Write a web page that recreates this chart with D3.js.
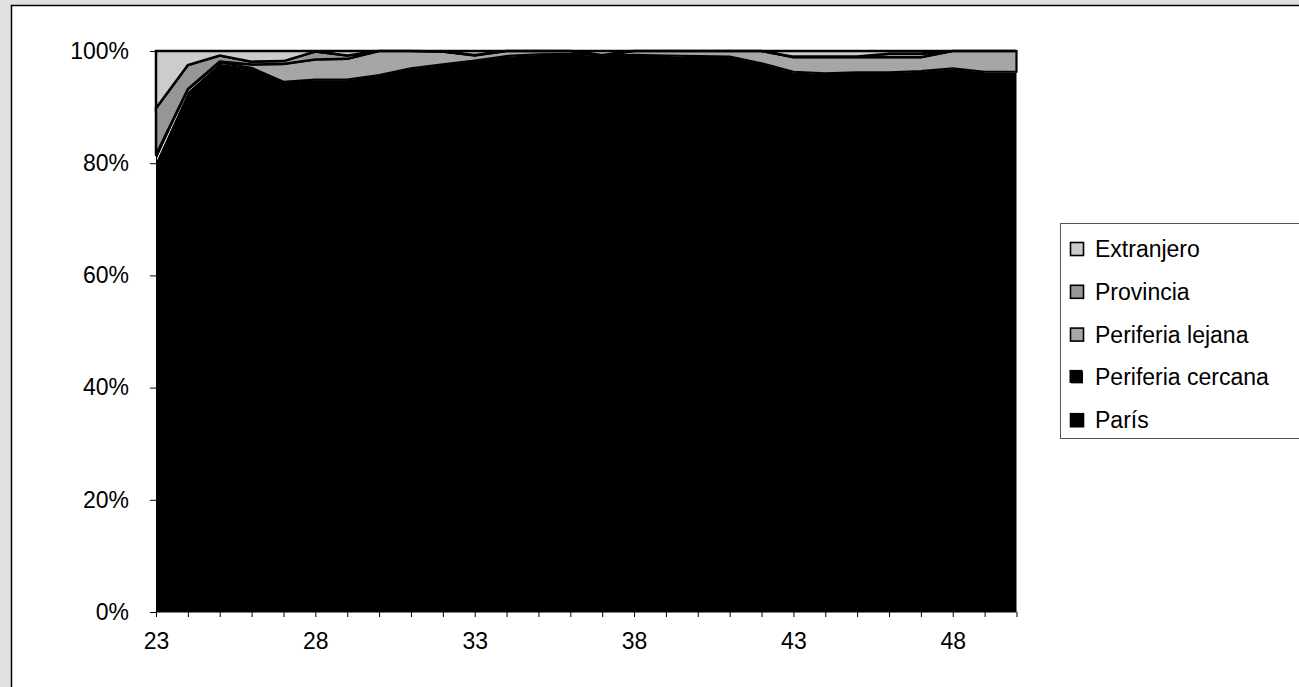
<!DOCTYPE html>
<html><head><meta charset="utf-8">
<script src="https://cdn.jsdelivr.net/npm/d3@7"></script>
<style>
html,body{margin:0;padding:0;background:#e0e0e0;}
svg{display:block;font-family:"Liberation Sans",Arial,sans-serif;}
</style></head>
<body>
<svg id="chart" width="1299" height="687"></svg>
<script>
const years = [23,24,25,26,27,28,29,30,31,32,33,34,35,36,37,38,39,40,41,42,43,44,45,46,47,48,49,50];
const paris = [80.3,92.8,97.8,97.0,94.5,94.9,94.9,95.7,96.9,97.6,98.3,99.1,99.4,99.5,99.2,99.3,99.2,99.1,99.0,97.8,96.3,96.0,96.2,96.2,96.4,96.9,96.3,96.3];
const cercana = [1.0,0.3,0.1,0,0,0,0,0,0,0,0,0,0,0,0,0,0,0,0,0,0,0,0,0,0,0,0,0];
const lejana = [0.2,0.1,0.2,0.6,3.2,3.6,3.7,4.3,3.1,2.3,0.9,0.9,0.6,0.5,0.1,0.7,0.8,0.9,1.0,2.2,2.6,2.9,2.7,2.7,2.5,3.1,3.7,3.7];
const provincia = [8.3,4.3,1.1,0.5,0.5,1.4,0.6,0,0,0,0.1,0,0,0,0,0,0,0,0,0,0.1,0.1,0.1,0.6,0.6,0,0,0];
const extranjero = [10.2,2.5,0.8,1.9,1.8,0.1,0.8,0,0,0.1,0.7,0,0,0,0.7,0,0,0,0,0,1.0,1.0,1.0,0.5,0.5,0,0,0];
const seriesNames = ["París","Periferia cercana","Periferia lejana","Provincia","Extranjero"];
const xTickLabels = [23,28,33,38,43,48];
const yTickValues = [0,0.2,0.4,0.6,0.8,1.0];

const fills = {"París":"#000000","Periferia cercana":"#000000","Periferia lejana":"#a6a6a6","Provincia":"#969696","Extranjero":"#cccccc"};
const strokes = {"París":"none","Periferia cercana":"#ffffff","Periferia lejana":"#000000","Provincia":"#000000","Extranjero":"#000000"};
const strokeW = {"París":0,"Periferia cercana":1,"Periferia lejana":2.2,"Provincia":2.5,"Extranjero":2.5};

const rows = years.map((y,i)=>({year:y,"París":paris[i],"Periferia cercana":cercana[i],"Periferia lejana":lejana[i],"Provincia":provincia[i],"Extranjero":extranjero[i]}));

const FONT = "Liberation Sans, Arial, sans-serif";
const FS = 23;

const svg = d3.select("#chart");
svg.append("rect").attr("x",11.5).attr("y",5.5).attr("width",1400).attr("height",800)
  .attr("fill","#ffffff").attr("stroke","#000").attr("stroke-width",1.5);

const x = d3.scaleLinear().domain([23,50]).range([156,1016.5]);
const y = d3.scaleLinear().domain([0,1]).range([612,51]);

const stack = d3.stack().keys(seriesNames).offset(d3.stackOffsetExpand);
const layers = stack(rows);

const area = d3.area().x(d=>x(d.data.year)).y0(d=>y(d[0])).y1(d=>y(d[1]));

svg.append("g").selectAll("path").data(layers).join("path")
  .attr("d",area)
  .attr("fill",d=>fills[d.key])
  .attr("stroke",d=>strokes[d.key])
  .attr("stroke-width",d=>strokeW[d.key])
  .attr("stroke-linejoin","miter");

const yAxis = d3.axisLeft(y).tickValues(yTickValues).tickSize(6).tickPadding(21).tickFormat(d3.format(".0%"));
const gy = svg.append("g").attr("transform","translate(156,0)").call(yAxis);
gy.attr("font-size",FS).attr("font-family",FONT);
gy.select(".domain").attr("stroke","#000").attr("stroke-width",1);
gy.selectAll(".tick line").attr("stroke","#000");
gy.selectAll(".tick text").attr("fill","#000");

const xAxis = d3.axisBottom(x).tickValues(years).tickSize(5).tickPadding(16)
  .tickFormat(d=>xTickLabels.includes(d)?String(d):"");
const gx = svg.append("g").attr("transform","translate(0,612)").call(xAxis);
gx.attr("font-size",FS).attr("font-family",FONT);
gx.select(".domain").attr("stroke","#000").attr("stroke-width",1).attr("d","M156,0H1016.5");
gx.selectAll(".tick line").attr("stroke","#000");
gx.selectAll(".tick text").attr("fill","#000");

const lg = svg.append("g");
lg.append("rect").attr("x",1060.5).attr("y",223.5).attr("width",300).attr("height",215)
  .attr("fill","#fff").attr("stroke","#555").attr("stroke-width",1);
const legendOrder = seriesNames.slice().reverse();
legendOrder.forEach((name,i)=>{
  const cy = 249 + i*42.8;
  if(name==="Periferia cercana"){
    lg.append("rect").attr("x",1070.5).attr("y",cy-6.5).attr("width",13).attr("height",13)
      .attr("fill","#000").attr("stroke","#fff").attr("stroke-width",1);
    lg.append("rect").attr("x",1069.5).attr("y",cy-7.5).attr("width",13).attr("height",13)
      .attr("fill","#000");
  } else {
    lg.append("rect").attr("x",1070.5).attr("y",cy-6.5).attr("width",13).attr("height",13)
      .attr("fill",fills[name]).attr("stroke","#000").attr("stroke-width",1.6);
  }
  lg.append("text").attr("x",1095).attr("y",cy).attr("dy","0.35em")
    .attr("font-size",FS).attr("font-family",FONT).attr("fill","#000").text(name);
});
</script>
</body></html>
